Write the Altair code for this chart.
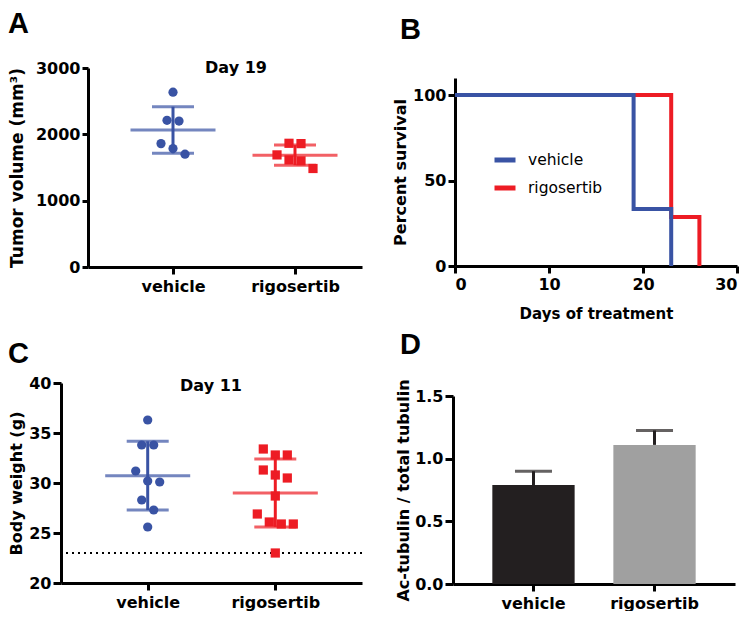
import json
import altair as alt
import pandas as pd

# ---------------- data ----------------
groups = ["vehicle", "rigosertib"]

tumor_vehicle = [2635, 2212, 2200, 1860, 1785, 1700]
tumor_rigosertib = [1865, 1860, 1690, 1615, 1600, 1485]

weight_vehicle = [36.3, 33.8, 33.8, 31.2, 30.2, 30.1, 28.3, 27.3, 25.6]
weight_rigosertib = [33.4, 32.8, 32.8, 31.3, 30.8, 30.5, 28.7, 26.9, 26.1, 25.9, 25.9, 23.0]
weight_limit = [23]

surv_days_vehicle = [0, 19, 23]
surv_pct_vehicle = [100, 33.3, 0]
surv_days_rigosertib = [0, 23, 26]
surv_pct_rigosertib = [100, 28.6, 0]

actub_mean = [0.79, 1.11]
actub_err = [0.11, 0.115]

tumor_day = ["Day 19"]
weight_day = ["Day 11"]
panel_letters = ["A", "B", "C", "D"]

# ---------------- style ----------------
BLUE = "#3953a4"
RED = "#ed1c24"
BAR_COLORS = ["#231f20", "#a0a0a0"]
FONT = "DejaVu Sans"
LETTER_FONT = "Liberation Sans"

# grid cell sizes (plot boxes); all cells share one grid (flush bounds)
CELL_W1, CELL_W2 = 301, 284


def axis_style(**kw):
    base = dict(domainColor="black", domainWidth=3, tickColor="black", tickWidth=3,
                labelColor="black", titleColor="black", labelFont=FONT, titleFont=FONT,
                labelFontWeight="bold", titleFontWeight="bold", labelFontSize=16,
                titleFontSize=16, grid=False, tickSize=7, labelPadding=3)
    base.update(kw)
    return alt.Axis(**base)


def letter_layer(text, dx, dy):
    # panel letter, placed relative to the plot origin (annotation)
    return alt.Chart(pd.DataFrame({"t": [text]})).mark_text(
        font=LETTER_FONT, fontSize=29, fontWeight="bold", color="black",
        align="left", baseline="top").encode(
        text="t:N", x=alt.value(dx), y=alt.value(dy))


def swarm(values, px_per_unit, thresh=11.0, step=12.0):
    order = sorted(range(len(values)), key=lambda i: -values[i])
    clusters, cur = [], [order[0]]
    for i in order[1:]:
        if (values[cur[-1]] - values[i]) * px_per_unit < thresh:
            cur.append(i)
        else:
            clusters.append(cur)
            cur = [i]
    clusters.append(cur)
    off = [0.0] * len(values)
    for c in clusters:
        n = len(c)
        for k, i in enumerate(c):
            off[i] = (k - (n - 1) / 2) * step
    return off


def scatter_panel(vals_by_group, ydomain, yticks, ytitle, W, H, x0, pos_px, day_text,
                  day_x, day_y, letter, letter_xy, title_pad, tick_size, title_size,
                  limit=None):
    # x0: left end of the axis inside the cell; pos_px: group centres within the cell
    u = pos_px[1] - pos_px[0]
    xdom = [-(pos_px[0] - x0) / u, 1 + (W - pos_px[1]) / u]
    pxu = H / (ydomain[1] - ydomain[0])
    rows = []
    for gi, g in enumerate(groups):
        vals = vals_by_group[gi]
        offs = swarm(vals, pxu)
        for v, o in zip(vals, offs):
            rows.append({"group": g, "gi": gi, "value": v, "xj": gi + o / u})
    df = pd.DataFrame(rows)
    stats = df.groupby(["group", "gi"], as_index=False)["value"].agg(mean="mean", sd="std")
    stats["lo"] = stats["mean"] - stats["sd"]
    stats["hi"] = stats["mean"] + stats["sd"]

    xscale = alt.Scale(domain=xdom, range=[x0, W], nice=False, zero=False)
    xaxis = axis_style(values=[0, 1], labelExpr=f"{json.dumps(groups)}[datum.value]",
                       title=None, labelAngle=0, tickSize=7, labelPadding=4)
    yscale = alt.Scale(domain=ydomain, nice=False, zero=False)
    yaxis = axis_style(values=yticks, format="d", title=ytitle, titlePadding=title_pad,
                       tickSize=tick_size, labelPadding=2, titleFontSize=title_size,
                       offset=-x0)

    def Y(field):
        return alt.Y(field, scale=yscale, axis=yaxis)

    def X(field):
        return alt.X(field, scale=xscale, axis=xaxis)

    color = alt.Color("group:N", scale=alt.Scale(domain=groups, range=[BLUE, RED]), legend=None)
    shape = alt.Shape("group:N", scale=alt.Scale(domain=groups, range=["circle", "square"]),
                      legend=None)

    layers = []
    if limit is not None:
        layers.append(alt.Chart(pd.DataFrame({"v": limit})).mark_rule(
            strokeDash=[2, 4], strokeWidth=2, color="black").encode(y=Y("v:Q")))
    layers.append(alt.Chart(df).mark_point(filled=True, size=85, opacity=1).encode(
        x=X("xj:Q"), y=Y("value:Q"), color=color, shape=shape))
    layers.append(alt.Chart(stats).mark_rule(strokeWidth=3).encode(
        x=X("gi:Q"), y=Y("lo:Q"), y2="hi:Q", color=color))
    layers.append(alt.Chart(stats).mark_tick(orient="horizontal", size=85, thickness=3).encode(
        x=X("gi:Q"), y=Y("mean:Q"), color=color))
    layers.append(alt.Chart(stats).transform_fold(["lo", "hi"], as_=["k", "v"]).mark_tick(
        orient="horizontal", size=42, thickness=3).encode(
        x=X("gi:Q"), y=Y("v:Q"), color=color))
    layers.append(alt.Chart(pd.DataFrame({"t": day_text})).mark_text(
        font=FONT, fontWeight="bold", fontSize=16, baseline="middle", color="black").encode(
        text="t:N", x=alt.value(day_x), y=alt.value(day_y)))
    layers.append(letter_layer(letter, *letter_xy))
    return alt.layer(*layers).properties(width=W, height=H)


# ---------------- panel A ----------------
panelA = scatter_panel([tumor_vehicle, tumor_rigosertib], [0, 3000], [0, 1000, 2000, 3000],
                       "Tumor volume (mm³)", CELL_W1, 199, 27, [112, 234], tumor_day, 175, 0,
                       panel_letters[0], (-53, -58), 9, 6, 17)

# ---------------- panel C ----------------
panelC = scatter_panel([weight_vehicle, weight_rigosertib], [20, 40], [20, 25, 30, 35, 40],
                       "Body weight (g)", CELL_W1, 200, 0, [86.7, 214.3], weight_day, 150, 2.5,
                       panel_letters[2], (-53, -43), 4, 8, 16, limit=weight_limit)

# ---------------- panel B ----------------
dfB = pd.DataFrame({
    "series": ["vehicle"] * len(surv_days_vehicle) + ["rigosertib"] * len(surv_days_rigosertib),
    "day": surv_days_vehicle + surv_days_rigosertib,
    "pct": surv_pct_vehicle + surv_pct_rigosertib,
})
HB = 198
xB = alt.X("day:Q", scale=alt.Scale(domain=[0, 30], range=[2, CELL_W2], nice=False),
           axis=axis_style(values=[0, 10, 20, 30], title="Days of treatment", titleFontSize=15,
                           titlePadding=14))
yB = alt.Y("pct:Q", scale=alt.Scale(domain=[0, 110], range=[HB, 10], nice=False),
           axis=axis_style(values=[0, 50, 100], title="Percent survival", titlePadding=4,
                           labelPadding=2, offset=-2))
colorB = alt.Color("series:N", scale=alt.Scale(domain=groups, range=[BLUE, RED]),
                   legend=alt.Legend(title=None, orient="none", legendX=39, legendY=79,
                                     labelFont=FONT, labelFontSize=15.5, labelColor="black",
                                     symbolType="stroke", symbolStrokeWidth=5, symbolSize=441,
                                     rowPadding=5, labelOffset=10, padding=0))
baseB = alt.Chart(dfB)
lineR = baseB.transform_filter(alt.datum.series == "rigosertib").mark_line(
    interpolate="step-after", strokeWidth=4).encode(x=xB, y=yB, color=colorB)
lineV = baseB.transform_filter(alt.datum.series == "vehicle").mark_line(
    interpolate="step-after", strokeWidth=4).encode(x=xB, y=yB, color=colorB)
panelB = alt.layer(lineR, lineV, letter_layer(panel_letters[1], -53, -52)).properties(
    width=CELL_W2, height=HB)

# ---------------- panel D ----------------
dfD = pd.DataFrame({"treatment": groups, "mean": actub_mean, "err": actub_err})
dfD["top"] = dfD["mean"] + dfD["err"]
WD, HD = 282, 201
xD = alt.X("treatment:N", sort=groups,
           scale=alt.Scale(type="band", paddingInner=0.32, paddingOuter=0.325),
           axis=axis_style(labelAngle=0, title=None, labelPadding=4))
yscaleD = alt.Scale(domain=[0, 1.5], range=[HD, 13], nice=False)
yaxisD = axis_style(values=[0, 0.5, 1.0, 1.5], format=".1f", title="Ac-tubulin / total tubulin",
                    titlePadding=3, tickSize=8, labelPadding=2)
barsD = alt.Chart(dfD).mark_bar().encode(
    x=xD, y=alt.Y("mean:Q", scale=yscaleD, axis=yaxisD),
    color=alt.Color("treatment:N", scale=alt.Scale(domain=groups, range=BAR_COLORS), legend=None))
errD = alt.Chart(dfD).mark_rule(strokeWidth=3, color=BAR_COLORS[0]).encode(
    x=xD, y=alt.Y("mean:Q", scale=yscaleD, axis=yaxisD), y2="top:Q")
capD = alt.Chart(dfD).mark_tick(size=37, thickness=3, color=BAR_COLORS[0]).encode(
    x=xD, y=alt.Y("top:Q", scale=yscaleD, axis=yaxisD))
panelD = alt.layer(barsD, errD, capD, letter_layer(panel_letters[3], -53, -52)).properties(
    width=WD, height=HD)

# ---------------- layout ----------------
chart = alt.concat(
    panelA, panelB, panelC, panelD, columns=2, bounds="flush", align="all",
    spacing={"row": 114, "column": 91},
).resolve_scale(color="independent", shape="independent").properties(
    padding={"left": 0, "top": 2, "right": 0, "bottom": 0}
).configure_view(stroke=None)

chart.save("out.html", embed_options={"renderer": "svg", "actions": False})
